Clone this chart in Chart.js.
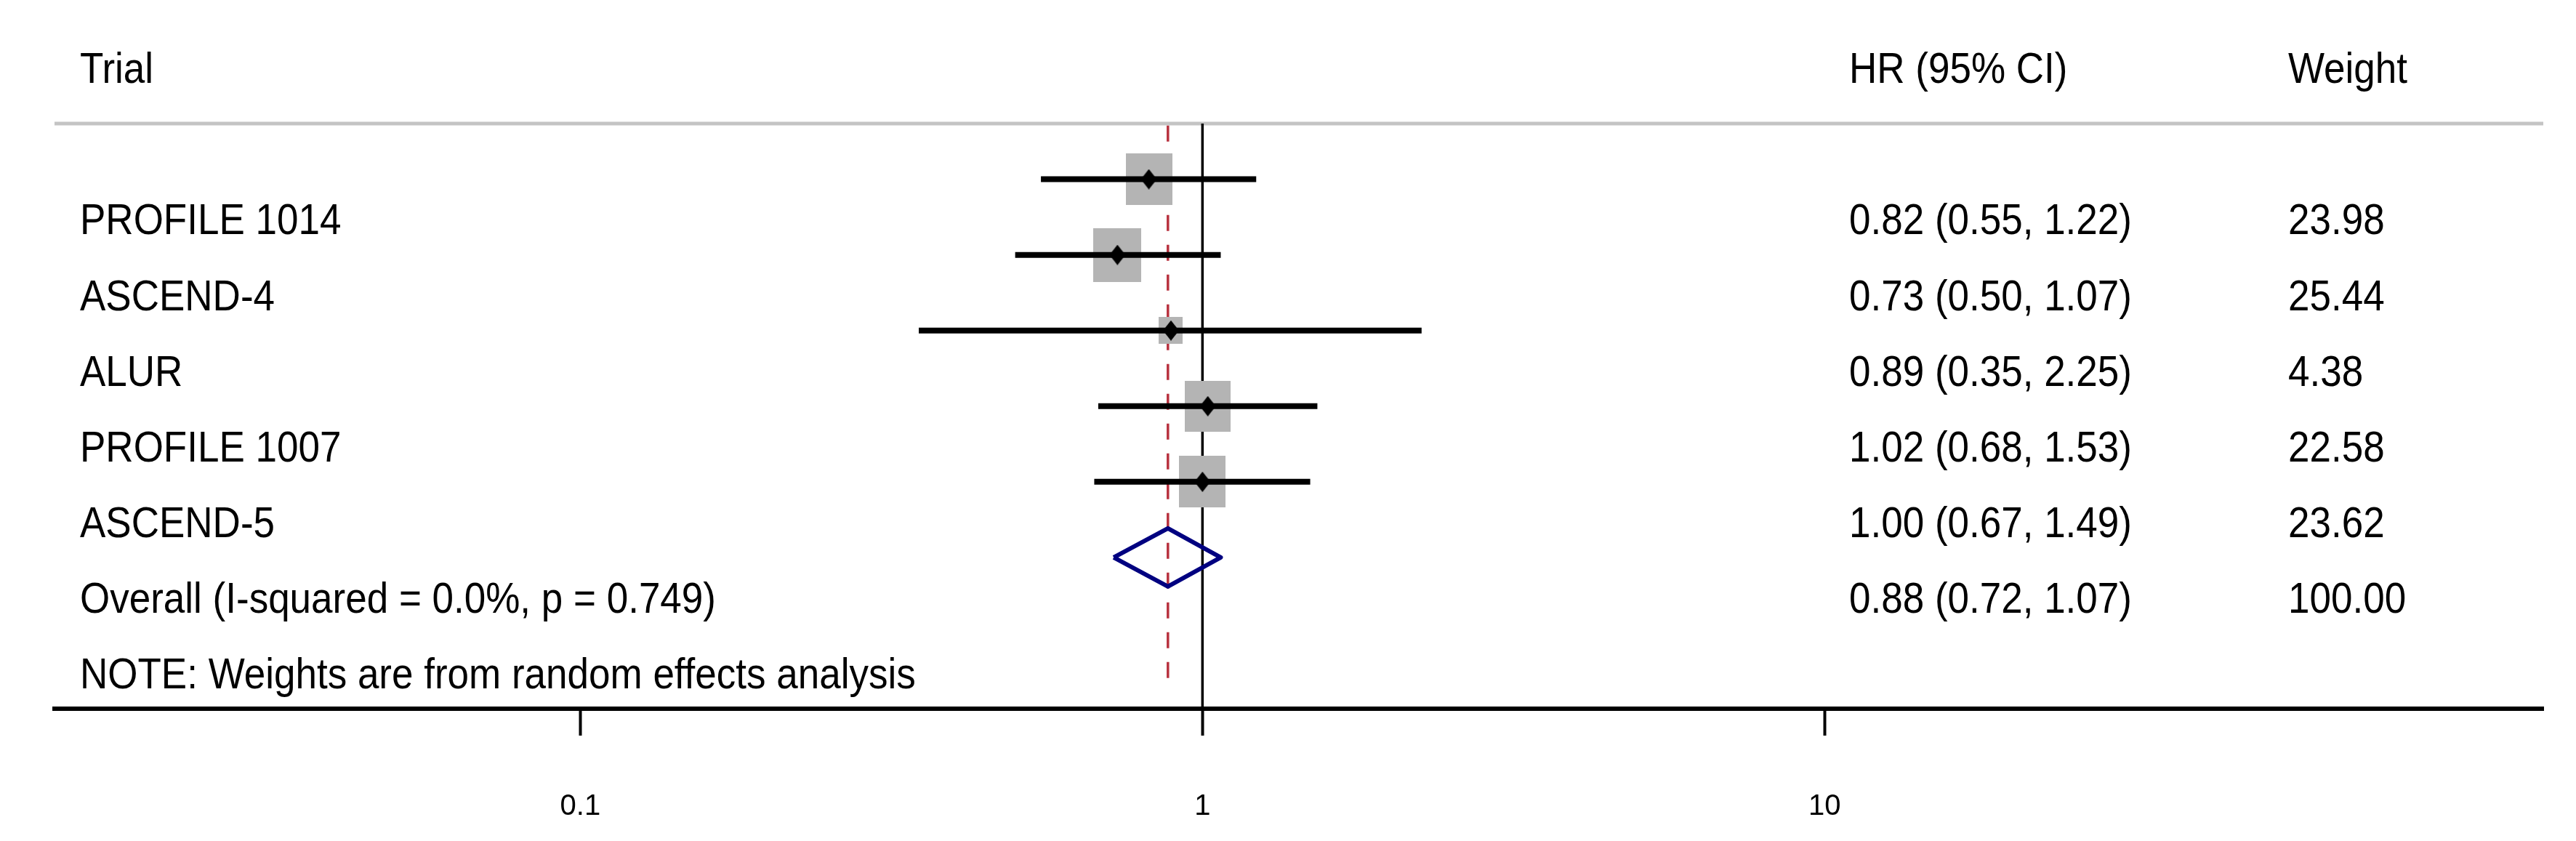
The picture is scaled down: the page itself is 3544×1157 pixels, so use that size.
<!DOCTYPE html>
<html><head><meta charset="utf-8">
<script src="https://cdn.jsdelivr.net/npm/chart.js@4.4.1/dist/chart.umd.min.js"></script>
<style>html,body{margin:0;padding:0;background:#fff;} canvas{display:block;}</style>
</head><body>
<canvas id="c" width="3544" height="1157"></canvas>
<script>
// ---------- data ----------
const trials = ['PROFILE 1014', 'ASCEND-4', 'ALUR', 'PROFILE 1007', 'ASCEND-5'];
const hr = [0.82, 0.73, 0.89, 1.02, 1.00];
const ciLow = [0.55, 0.50, 0.35, 0.68, 0.67];
const ciHigh = [1.22, 1.07, 2.25, 1.53, 1.49];
const weights = [23.98, 25.44, 4.38, 22.58, 23.62];
const overallLabel = 'Overall (I-squared = 0.0%, p = 0.749)';
const overallHR = [0.88];
const overallLow = [0.72];
const overallHigh = [1.07];
const overallWeight = [100.00];
const noteText = 'NOTE: Weights are from random effects analysis';
const headers = ['Trial', 'HR (95% CI)', 'Weight'];
const tickValues = [0.1, 1, 10];
const tickLabels = ['0.1', '1', '10'];
const nullValue = 1;

// ---------- layout ----------
const X_MIN = Math.pow(10, -1.845), X_MAX = Math.pow(10, 2.155);
const Y_MIN = -1.37, Y_MAX = 8;
const RULE_Y = 0.263, TEXT_OFF = 0.729, HEADER_Y = -0.27;
const COL_X = [110, 2544, 3148];
const nRows = trials.length;
const overallRow = nRows + 1;

function boxCanvas(w) {
  const bw = Math.round(18.09 * Math.pow(w, 0.4));
  const bh = Math.round(bw * 1.117);
  const c = document.createElement('canvas');
  c.width = bw; c.height = bh;
  const g = c.getContext('2d');
  g.fillStyle = '#b4b4b4';
  g.fillRect(0, 0, bw, bh);
  return c;
}
function centerDiamond() {
  const c = document.createElement('canvas');
  c.width = 22; c.height = 28;
  const g = c.getContext('2d');
  g.fillStyle = '#000';
  g.beginPath(); g.moveTo(11, 0); g.lineTo(22, 14); g.lineTo(11, 28); g.lineTo(0, 14); g.closePath(); g.fill();
  return c;
}
const cd = centerDiamond();

const datasets = [];
// header rule
datasets.push({ data: [{x: X_MIN, y: RULE_Y}, {x: X_MAX, y: RULE_Y}], showLine: true, borderColor: '#c4c4c4', borderWidth: 5, pointRadius: 0, order: 8 });
// overall dashed line
datasets.push({ data: [{x: overallHR[0], y: 0.29}, {x: overallHR[0], y: 7.6}], showLine: true, borderColor: '#b8323f', borderWidth: 3.5, borderDash: [22, 19], pointRadius: 0, order: 7 });
// null line
datasets.push({ data: [{x: nullValue, y: RULE_Y}, {x: nullValue, y: Y_MAX}], showLine: true, borderColor: '#000', borderWidth: 3.5, pointRadius: 0, order: 6 });
// weight boxes
datasets.push({ data: hr.map((v, i) => ({x: v, y: i + 1})), pointStyle: weights.map(boxCanvas), pointRadius: 10, order: 5 });
// CI lines
trials.forEach((t, i) => {
  datasets.push({ data: [{x: ciLow[i], y: i + 1}, {x: ciHigh[i], y: i + 1}], showLine: true, borderColor: '#000', borderWidth: 8, borderCapStyle: 'butt', pointRadius: 0, order: 4 });
});
// center marks
datasets.push({ data: hr.map((v, i) => ({x: v, y: i + 1})), pointStyle: cd, pointRadius: 10, order: 3 });
// overall diamond
datasets.push({ data: [
  {x: overallLow[0], y: overallRow}, {x: overallHR[0], y: overallRow - 0.385},
  {x: overallHigh[0], y: overallRow}, {x: overallHR[0], y: overallRow + 0.385},
  {x: overallLow[0], y: overallRow}], showLine: true, borderColor: '#000080', borderWidth: 6, borderJoinStyle: 'round', pointRadius: 0, fill: false, order: 1 });

const textPlugin = {
  id: 'forestText',
  afterDraw(chart) {
    const ctx = chart.ctx, ys = chart.scales.y;
    ctx.save();
    ctx.fillStyle = '#000';
    ctx.font = '53px "Liberation Sans", Arial, sans-serif';
    ctx.textBaseline = 'alphabetic';
    ctx.textAlign = 'left';
    const put = (t, x, v) => {
      const y = ys.getPixelForValue(v);
      ctx.save(); ctx.translate(x, y); ctx.scale(1, 1.13); ctx.fillText(t, 0, 0); ctx.restore();
    };
    headers.forEach((h, k) => put(h, COL_X[k], HEADER_Y));
    trials.forEach((t, i) => {
      const v = i + 1 + TEXT_OFF;
      put(t, COL_X[0], v);
      put(hr[i].toFixed(2) + ' (' + ciLow[i].toFixed(2) + ', ' + ciHigh[i].toFixed(2) + ')', COL_X[1], v);
      put(weights[i].toFixed(2), COL_X[2], v);
    });
    const vo = overallRow + TEXT_OFF;
    put(overallLabel, COL_X[0], vo);
    put(overallHR[0].toFixed(2) + ' (' + overallLow[0].toFixed(2) + ', ' + overallHigh[0].toFixed(2) + ')', COL_X[1], vo);
    put(overallWeight[0].toFixed(2), COL_X[2], vo);
    put(noteText, COL_X[0], overallRow + 1 + TEXT_OFF);
    ctx.restore();
  }
};

new Chart(document.getElementById('c'), {
  type: 'scatter',
  data: { datasets },
  options: {
    responsive: false,
    devicePixelRatio: 1,
    animation: false,
    events: [],
    layout: { autoPadding: false, padding: { left: 75, right: 45, top: 0, bottom: 0 } },
    plugins: { legend: { display: false }, tooltip: { enabled: false } },
    scales: {
      x: {
        type: 'logarithmic',
        min: X_MIN, max: X_MAX,
        afterBuildTicks: (s) => { s.ticks = tickValues.map(v => ({value: v})); },
        afterFit: (s) => { s.height = 182; },
        border: { display: true, color: '#000', width: 6 },
        grid: { display: true, drawOnChartArea: false, drawTicks: true, tickLength: 37, tickWidth: 4, tickColor: '#000', color: '#000' },
        ticks: {
          autoSkip: false, maxRotation: 0, minRotation: 0, padding: 74, color: '#000',
          font: { family: '"Liberation Sans", Arial, sans-serif', size: 40 },
          callback: (v) => { const k = tickValues.indexOf(v); return k >= 0 ? tickLabels[k] : ''; }
        }
      },
      y: { type: 'linear', reverse: true, min: Y_MIN, max: Y_MAX, display: false }
    }
  },
  plugins: [textPlugin]
});
</script>
</body></html>
